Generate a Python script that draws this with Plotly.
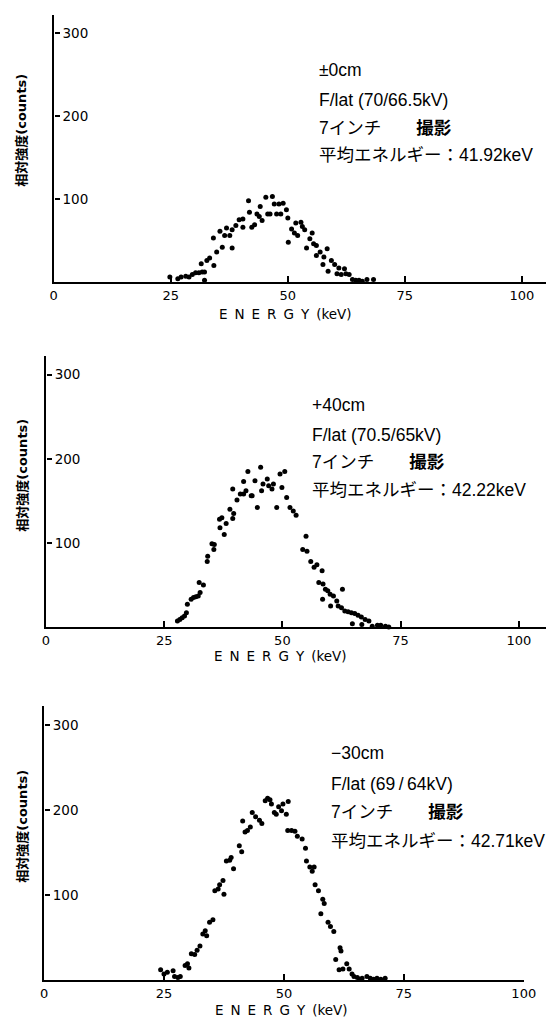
import plotly.graph_objects as go

# ---------------- data ----------------
energy_p0 = [24.8, 26.5, 27.2, 28.2, 28.9, 29.6, 30.3, 31.0, 31.7, 32.2, 32.2, 31.5, 32.7, 33.3, 34.2, 34.8,
             36.0, 34.1, 35.5, 36.5, 36.9, 37.6, 38.1, 38.1, 38.9, 39.6, 40.4, 40.4, 41.6, 41.8, 42.3, 42.9,
             43.4, 44.1, 44.5, 43.9, 45.3, 45.7, 46.2, 46.7, 47.1, 47.6, 48.1, 48.5, 49.0, 49.7, 50.0, 50.1,
             50.8, 51.4, 52.1, 51.7, 52.8, 53.1, 53.6, 54.0, 54.7, 55.2, 55.5, 56.1, 56.1, 56.9, 57.5, 57.7,
             58.4, 58.6, 59.3, 60.0, 60.5, 60.9, 61.4, 62.1, 62.4, 63.1, 63.8, 64.5, 65.2, 65.9, 66.9, 68.3]
counts_p0 = [6, 4, 6, 7, 6, 9, 11, 11, 12, 12, 2, 22, 26, 29, 20, 36,
             42, 53, 61, 56, 65, 56, 41, 63, 68, 75, 76, 66, 98, 84, 66, 69,
             82, 91, 74, 79, 102, 82, 82, 103, 94, 82, 94, 82, 95, 87, 77, 48,
             64, 59, 56, 71, 72, 67, 63, 41, 52, 59, 46, 44, 32, 36, 21, 30,
             40, 13, 26, 21, 10, 17, 9, 16, 10, 9, 3, 2, 2, 1, 3, 3]

energy_p40 = [27.8, 28.3, 28.8, 29.3, 29.7, 29.9, 30.7, 31.2, 31.7, 32.2, 32.6, 32.4, 33.3, 34.1, 34.2, 35.1,
              35.6, 35.5, 36.7, 37.2, 36.8, 37.7, 38.1, 38.9, 39.5, 39.7, 39.5, 40.4, 41.1, 41.8, 42.3, 43.4,
              41.8, 42.7, 43.6, 44.2, 44.7, 45.4, 45.6, 45.9, 46.8, 47.1, 47.8, 48.1, 48.8, 49.5, 50.5, 49.9,
              50.9, 51.6, 52.3, 52.9, 55.0, 54.3, 55.2, 56.0, 56.7, 57.3, 58.4, 57.7, 58.6, 59.1, 59.6, 60.1,
              60.8, 61.5, 62.7, 58.5, 60.2, 61.8, 62.5, 63.2, 63.9, 64.6, 65.3, 66.0, 66.7, 67.5, 68.3, 64.8,
              66.8, 69.0, 70.1, 70.8, 71.8, 72.5]
counts_p40 = [7, 9, 11, 13, 17, 27, 33, 35, 36, 37, 41, 53, 50, 78, 84, 99,
              98, 92, 128, 130, 118, 110, 123, 140, 129, 135, 164, 151, 158, 158, 162, 156,
              173, 185, 156, 174, 142, 190, 162, 170, 176, 168, 164, 170, 142, 182, 185, 166,
              154, 142, 138, 133, 108, 92, 90, 78, 71, 74, 67, 53, 51, 45, 43, 39,
              37, 31, 45, 33, 25, 25, 23, 19, 18, 17, 16, 14, 12, 9, 7, 4,
              3, 1, 2, 2, 1, 0]

energy_m30 = [24.3, 25.0, 25.7, 26.9, 27.2, 27.9, 28.4, 29.4, 29.9, 30.2, 30.7, 31.4, 31.9, 32.5, 33.1, 33.6,
              33.9, 34.5, 35.2, 35.6, 36.3, 36.6, 37.3, 37.5, 38.0, 38.7, 39.0, 39.5, 40.7, 41.2, 41.4, 41.9,
              42.4, 43.0, 43.4, 44.1, 44.9, 45.4, 46.1, 46.6, 47.1, 47.4, 48.0, 48.4, 48.9, 49.5, 49.8, 50.5,
              50.9, 50.8, 51.6, 52.3, 52.8, 53.8, 54.5, 54.7, 55.4, 55.9, 56.3, 56.5, 57.2, 58.1, 58.4, 57.7,
              59.2, 59.7, 60.4, 61.7, 61.9, 60.8, 61.5, 62.3, 63.1, 63.6, 64.2, 64.6, 65.3, 65.8, 66.3, 67.3,
              68.0, 68.7, 69.4, 70.2, 71.1]
counts_m30 = [12, 7, 9, 11, 4, 3, 4, 17, 19, 14, 31, 30, 35, 40, 54, 58,
              52, 68, 71, 105, 107, 112, 117, 101, 140, 141, 144, 131, 158, 151, 187, 174,
              176, 180, 197, 192, 188, 184, 211, 214, 212, 207, 197, 195, 204, 199, 207, 195,
              210, 176, 176, 175, 169, 166, 155, 140, 133, 128, 133, 112, 105, 95, 90, 78,
              68, 63, 57, 38, 34, 24, 12, 13, 19, 13, 7, 4, 3, 1, 2, 4,
              2, 1, 2, 1, 2]

x_tick_vals = [0, 25, 50, 75, 100]
x_tick_text = ["0", "25", "50", "75", "100"]
y_tick_vals = [100, 200, 300]
y_tick_text = ["100", "200", "300"]

panel_labels = [
    ["±0cm", "F/lat (70/66.5kV)", "7インチ　　<b>撮影</b>", "平均エネルギー：41.92keV"],
    ["+40cm", "F/lat (70.5/65kV)", "7インチ　　<b>撮影</b>", "平均エネルギー：42.22keV"],
    ["\u221230cm", "F/lat (69\u2009/\u200964kV)", "7インチ　　<b>撮影</b>", "平均エネルギー：42.71keV"],
]
x_title = "E\u2009 N\u2009 E\u2009 R\u2009 G\u2009 Y\u2009 (keV)"
y_title = "<b>相対強度(counts)</b>"

# ---------------- layout geometry (pixels) ----------------
W, H = 554, 1017
TICKFONT = "DejaVu Sans, Noto Sans CJK JP, sans-serif"
TEXTFONT = "Liberation Sans, Noto Sans CJK JP, sans-serif"

panels = [
    dict(xl=43, xr=554, xmax=106.0, yt=7, yb=274, ymax=321.7,
         tx=314, ty=[62, 92, 120, 147], title_y=306, title_x=282, ytitle_y=122),
    dict(xl=35, xr=554, xmax=106.6, yt=348, yb=619, ymax=322.2,
         tx=307, ty=[397, 427, 454, 482], title_y=648, title_x=276, ytitle_y=467),
    dict(xl=33, xr=527, xmax=100.0, yt=698, yb=972, ymax=322.4,
         tx=326, ty=[745, 776, 804, 833], title_y=1002, title_x=278, ytitle_y=818),
]
data_sets = [(energy_p0, counts_p0), (energy_p40, counts_p40), (energy_m30, counts_m30)]

fig = go.Figure()
annotations = []
for i, (p, (ex, cy)) in enumerate(zip(panels, data_sets), start=1):
    sfx = "" if i == 1 else str(i)
    lab_id = str(i + 3)
    fig.add_trace(go.Scatter(
        x=ex, y=cy, mode="markers",
        marker=dict(color="black", size=5),
        cliponaxis=False, showlegend=False, hoverinfo="x+y",
        xaxis="x" + sfx, yaxis="y" + sfx,
    ))
    # transparent copy so the companion (label) axis is drawn
    fig.add_trace(go.Scatter(
        x=ex, y=cy, mode="markers",
        marker=dict(color="rgba(0,0,0,0)", size=1),
        showlegend=False, hoverinfo="skip",
        xaxis="x" + sfx, yaxis="y" + lab_id,
    ))
    ydom = [1 - p["yb"] / H, 1 - p["yt"] / H]
    fig.update_layout(**{
        "xaxis" + sfx: dict(
            domain=[p["xl"] / W, p["xr"] / W], range=[0, p["xmax"]],
            anchor="y" + sfx, showgrid=False, zeroline=False,
            showline=True, linecolor="black", linewidth=2,
            ticks="inside", ticklen=6, tickwidth=1.5, tickcolor="black",
            tickvals=x_tick_vals, ticktext=x_tick_text,
            ticklabeloverflow="allow",
            tickfont=dict(family=TICKFONT, size=13, color="black"),
        ),
        "yaxis" + sfx: dict(
            domain=ydom, range=[0, p["ymax"]],
            anchor="x" + sfx, showgrid=False, zeroline=False,
            showline=True, linecolor="black", linewidth=2,
            ticks="", showticklabels=False,
        ),
        # companion axis on the same line: ticks + labels pointing into the plot
        "yaxis" + lab_id: dict(
            domain=ydom, range=[0, p["ymax"]],
            overlaying="y" + sfx, side="right", anchor="free", position=p["xl"] / W,
            showgrid=False, zeroline=False, showline=False,
            ticks="outside", ticklen=5, tickwidth=1.5, tickcolor="black",
            tickvals=y_tick_vals, ticktext=y_tick_text,
            tickfont=dict(family=TICKFONT, size=13.5, color="black"),
        ),
    })
    for txt, ty in zip(panel_labels[i - 1], p["ty"]):
        annotations.append(dict(
            text=txt, x=p["tx"] / W, y=1 - ty / H, xref="paper", yref="paper",
            xanchor="left", yanchor="middle", showarrow=False,
            font=dict(family=TEXTFONT, size=17.5, color="black"),
        ))
    annotations.append(dict(
        text=x_title, x=p["title_x"] / W, y=1 - p["title_y"] / H, xref="paper", yref="paper",
        xanchor="center", yanchor="middle", showarrow=False,
        font=dict(family=TICKFONT, size=13.5, color="black"),
    ))
    annotations.append(dict(
        text=y_title, x=10 / W, y=1 - p["ytitle_y"] / H, xref="paper", yref="paper",
        xanchor="center", yanchor="middle", showarrow=False, textangle=-90,
        font=dict(family=TICKFONT, size=13, color="black"),
    ))

fig.update_layout(
    width=W, height=H,
    margin=dict(l=0, r=0, t=0, b=0),
    paper_bgcolor="white", plot_bgcolor="white",
    annotations=annotations,
    font=dict(family=TICKFONT, color="black"),
)

fig.write_html("out.html")
